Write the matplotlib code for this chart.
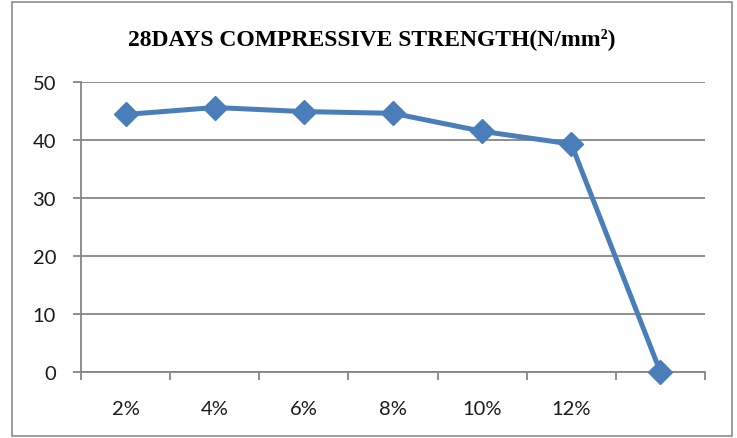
import matplotlib
matplotlib.use("Agg")
import matplotlib.pyplot as plt
from matplotlib.patches import Rectangle
import numpy as np

categories = ["2%", "4%", "6%", "8%", "10%", "12%", ""]
strength = [44.4, 45.6, 44.9, 44.6, 41.5, 39.3, 0.0]
y_ticks = [0, 10, 20, 30, 40, 50]

line_color = "#4A7EBB"
grid_color = "#868686"

fig = plt.figure(figsize=(7.37, 4.39), dpi=100)
fig.patch.set_facecolor("white")

# outer chart border
fig.patches.append(Rectangle((12 / 737, 2 / 439), 720 / 737, 434 / 439,
                             transform=fig.transFigure, fill=False,
                             edgecolor="#8c8c8c", linewidth=1.2))

ax = fig.add_axes([81 / 737, 1 - 373 / 439, 624 / 737, 290 / 439])
x = np.arange(len(categories))
ax.plot(x, strength, color=line_color, linewidth=3.6, marker="D",
        markersize=12, markerfacecolor=line_color, markeredgecolor=line_color,
        zorder=3, clip_on=False)

ax.set_xlim(-0.5, len(categories) - 0.5)
ax.set_ylim(0, 50)
ax.set_yticks(y_ticks)
ax.set_yticklabels([str(v) for v in y_ticks])
ax.yaxis.grid(True, color=grid_color, linewidth=1.3)
ax.set_axisbelow(True)

ax.set_xticks(x)
ax.set_xticklabels(categories)
ax.set_xticks(np.arange(-0.5, len(categories)), minor=True)
ax.tick_params(axis="x", which="major", length=0, pad=20)
ax.tick_params(axis="x", which="minor", length=6, width=1.3,
               color=grid_color, direction="out")
ax.tick_params(axis="y", length=6, width=1.3, color=grid_color, pad=12)

for lbl in ax.get_xticklabels() + ax.get_yticklabels():
    lbl.set_fontfamily("Lato")
    lbl.set_fontsize(14.5)
    lbl.set_color("#1a1a1a")

for side in ["top", "right"]:
    ax.spines[side].set_visible(False)
for side in ["left", "bottom"]:
    ax.spines[side].set_color(grid_color)
    ax.spines[side].set_linewidth(1.3)

fig.text(372 / 737, 1 - 45 / 439, "28DAYS COMPRESSIVE STRENGTH(N/mm²)",
         ha="center", va="baseline", fontsize=17, fontweight="bold",
         fontfamily="Liberation Serif")

fig.savefig("out.png", dpi=100, facecolor="white")
